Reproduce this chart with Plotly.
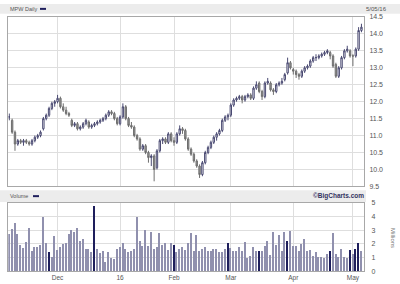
import pandas as pd
import plotly.graph_objects as go

# ---------------- data ----------------
holidays = ["2015-11-26", "2015-12-25", "2016-01-01", "2016-01-18", "2016-02-15", "2016-03-25"]
dates = [d.strftime("%Y-%m-%d") for d in pd.bdate_range("2015-11-05", "2016-05-05")
         if d.strftime("%Y-%m-%d") not in holidays]

opens = [11.55, 11.45, 11.10, 10.75, 10.85, 10.80, 10.85, 10.80, 10.75, 10.85,
         10.95, 11.00, 11.20, 11.50, 11.60, 11.80, 11.95, 12.00, 12.10, 11.85,
         11.75, 11.65, 11.45, 11.30, 11.35, 11.20, 11.25, 11.35, 11.40, 11.25,
         11.30, 11.35, 11.40, 11.45, 11.50, 11.60, 11.70, 11.65, 11.50, 11.35,
         11.55, 11.85, 11.50, 11.30, 11.25, 11.00, 10.90, 10.60, 10.70, 10.50,
         10.35, 10.40, 10.05, 10.55, 10.85, 10.90, 10.80, 11.05, 10.85, 10.80,
         11.05, 11.20, 11.15, 10.90, 10.60, 10.45, 10.25, 10.10, 9.85, 10.20,
         10.50, 10.65, 10.80, 10.95, 11.05, 11.15, 11.45, 11.55, 11.60, 11.90,
         12.05, 12.10, 12.15, 12.05, 12.15, 12.20, 12.10, 12.40, 12.55, 12.30,
         12.15, 12.55, 12.55, 12.35, 12.30, 12.50, 12.55, 12.65, 12.85, 13.15,
         12.95, 12.90, 12.80, 12.75, 12.90, 13.00, 13.05, 13.20, 13.30, 13.30,
         13.35, 13.40, 13.45, 13.45, 13.35, 13.10, 12.75, 13.00, 13.30, 13.50,
         13.50, 13.35, 13.35, 13.55, 14.10]
highs = [11.65, 11.50, 11.15, 10.90, 10.90, 10.90, 10.90, 10.85, 10.90, 11.00,
         11.05, 11.15, 11.55, 11.65, 11.85, 12.00, 12.05, 12.20, 12.15, 11.95,
         11.85, 11.70, 11.50, 11.40, 11.40, 11.30, 11.40, 11.50, 11.45, 11.35,
         11.40, 11.45, 11.50, 11.55, 11.65, 11.75, 11.75, 11.70, 11.55, 11.60,
         11.95, 11.90, 11.55, 11.40, 11.30, 11.05, 10.95, 10.75, 10.75, 10.55,
         10.45, 10.45, 10.60, 10.90, 10.95, 10.95, 11.10, 11.10, 10.95, 11.10,
         11.30, 11.25, 11.20, 10.95, 10.65, 10.50, 10.30, 10.15, 10.25, 10.55,
         10.70, 10.85, 11.00, 11.10, 11.20, 11.50, 11.60, 11.65, 11.95, 12.10,
         12.15, 12.20, 12.20, 12.20, 12.25, 12.25, 12.45, 12.60, 12.60, 12.35,
         12.60, 12.70, 12.60, 12.40, 12.55, 12.60, 12.70, 12.85, 13.30, 13.20,
         13.00, 12.95, 12.85, 12.95, 13.05, 13.10, 13.25, 13.35, 13.40, 13.40,
         13.45, 13.50, 13.55, 13.50, 13.40, 13.15, 13.05, 13.35, 13.55, 13.65,
         13.55, 13.40, 13.60, 14.20, 14.30]
lows = [11.45, 11.05, 10.55, 10.70, 10.75, 10.70, 10.75, 10.70, 10.70, 10.80,
        10.90, 10.95, 11.15, 11.45, 11.55, 11.75, 11.85, 11.95, 11.80, 11.70,
        11.60, 11.55, 11.25, 11.25, 11.15, 11.15, 11.20, 11.30, 11.20, 11.20,
        11.25, 11.30, 11.35, 11.40, 11.45, 11.55, 11.60, 11.45, 11.30, 11.30,
        11.50, 11.45, 11.25, 11.20, 10.95, 10.85, 10.55, 10.55, 10.45, 10.20,
        10.10, 9.65, 10.00, 10.50, 10.75, 10.75, 10.75, 10.80, 10.70, 10.75,
        11.00, 11.05, 10.85, 10.55, 10.40, 10.20, 10.05, 9.75, 9.80, 10.15,
        10.45, 10.60, 10.75, 10.85, 11.00, 11.10, 11.40, 11.45, 11.55, 11.85,
        12.00, 12.05, 11.95, 12.00, 12.10, 12.05, 12.05, 12.35, 12.25, 12.05,
        12.10, 12.50, 12.30, 12.20, 12.25, 12.45, 12.50, 12.60, 12.80, 12.95,
        12.80, 12.70, 12.65, 12.70, 12.85, 12.95, 13.00, 13.15, 13.20, 13.25,
        13.30, 13.35, 13.40, 13.25, 13.00, 12.70, 12.70, 12.95, 13.25, 13.45,
        13.30, 13.05, 13.30, 13.50, 14.05]
closes = [11.55, 11.10, 10.75, 10.85, 10.80, 10.85, 10.80, 10.75, 10.85, 10.95,
          11.00, 11.10, 11.50, 11.60, 11.80, 11.95, 12.00, 12.10, 11.85, 11.75,
          11.65, 11.60, 11.30, 11.35, 11.20, 11.25, 11.35, 11.45, 11.25, 11.30,
          11.35, 11.40, 11.45, 11.50, 11.60, 11.70, 11.65, 11.50, 11.35, 11.55,
          11.85, 11.50, 11.30, 11.25, 11.00, 10.90, 10.60, 10.70, 10.50, 10.35,
          10.40, 10.00, 10.55, 10.85, 10.90, 10.80, 11.05, 10.85, 10.80, 11.05,
          11.20, 11.15, 10.90, 10.60, 10.45, 10.25, 10.10, 9.85, 10.20, 10.50,
          10.65, 10.80, 10.95, 11.05, 11.15, 11.45, 11.55, 11.60, 11.90, 12.05,
          12.10, 12.15, 12.05, 12.15, 12.20, 12.10, 12.40, 12.50, 12.30, 12.15,
          12.55, 12.60, 12.35, 12.30, 12.50, 12.55, 12.60, 12.80, 13.15, 13.00,
          12.90, 12.80, 12.75, 12.90, 13.00, 13.05, 13.20, 13.30, 13.30, 13.35,
          13.40, 13.45, 13.50, 13.35, 13.05, 12.75, 13.00, 13.30, 13.50, 13.55,
          13.35, 13.35, 13.55, 14.10, 14.20]
volume_millions = [2.7, 3.1, 3.5, 2.7, 1.95, 1.7, 2.15, 3.2, 1.5, 1.8,
                   1.75, 1.9, 4.0, 2.1, 1.4, 1.05, 2.6, 1.55, 1.8, 2.0,
                   2.05, 2.7, 3.0, 2.85, 3.2, 2.25, 2.4, 1.65, 1.65, 1.4,
                   4.75, 1.65, 1.35, 1.5, 0.7, 1.4, 1.0, 0.9, 1.65, 1.75,
                   2.05, 1.6, 1.4, 1.5, 1.65, 4.0, 2.25, 1.85, 3.0, 1.85,
                   2.9, 1.6, 1.8, 2.8, 1.9, 2.05, 1.55, 2.1, 1.9, 1.4,
                   1.6, 1.8, 1.55, 2.05, 2.8, 1.5, 2.65, 1.5, 1.6, 1.75,
                   1.5, 1.5, 1.65, 1.65, 1.4, 1.4, 1.65, 2.1, 1.7, 1.5,
                   1.5, 1.75, 1.5, 2.15, 0.95, 1.15, 1.75, 1.5, 1.5, 1.5,
                   1.85, 2.25, 1.2, 2.85, 1.9, 2.65, 1.5, 2.85, 2.25, 2.95,
                   1.85, 1.85, 1.5, 2.0, 2.4, 1.5, 1.55, 1.1, 1.4, 1.05,
                   1.05, 0.95, 1.25, 1.5, 2.8, 1.3, 1.05, 1.65, 1.05, 1.0,
                   1.55, 1.3, 1.65, 2.1, 1.45]
dark_volume_days = ["2015-11-25", "2015-12-18", "2016-02-01", "2016-02-29", "2016-03-15",
                    "2016-03-30", "2016-04-20", "2016-04-29", "2016-05-03", "2016-05-04"]

month_ticks = ["2015-12-01", "2016-01-04", "2016-02-01", "2016-03-01", "2016-04-01", "2016-05-02"]
month_labels = ["Dec", "16", "Feb", "Mar", "Apr", "May"]
price_ticks = [9.5, 10.0, 10.5, 11.0, 11.5, 12.0, 12.5, 13.0, 13.5, 14.0, 14.5]
volume_ticks = [0, 1, 2, 3, 4, 5]

# ---------------- figure ----------------
W, H = 400, 284
GRID = "#dedede"
FRAME = "#a8a8a8"
TXT = "#555555"
FONT = "Liberation Sans"

bar_colors = ["#1e1e5c" if d in dark_volume_days else "#9090ae" for d in dates]

fig = go.Figure()
fig.add_trace(go.Candlestick(
    x=dates, open=opens, high=highs, low=lows, close=closes,
    increasing=dict(line=dict(color="#4a4a72", width=1), fillcolor="#ffffff"),
    decreasing=dict(line=dict(color="#6e6e6e", width=1), fillcolor="#9a9a9a"),
    whiskerwidth=0, showlegend=False, hoverinfo="skip",
    xaxis="x", yaxis="y",
))
fig.add_trace(go.Bar(
    x=dates, y=volume_millions, marker=dict(color=bar_colors, line=dict(width=0)),
    width=0.4, showlegend=False, hoverinfo="skip", xaxis="x2", yaxis="y2",
))

xdom = [8.3 / W, 364 / W]
common_x = dict(
    type="category", domain=xdom, range=[-0.35, len(dates) - 0.1],
    tickmode="array", tickvals=month_ticks, ticktext=month_labels,
    showgrid=True, gridcolor=GRID, gridwidth=1,
    showline=True, linecolor=FRAME, linewidth=1, mirror=True,
    ticks="", zeroline=False, fixedrange=True,
)
fig.update_layout(
    width=W, height=H,
    margin=dict(l=0, r=0, t=0, b=0),
    paper_bgcolor="white", plot_bgcolor="white",
    font=dict(family=FONT, size=7, color=TXT),
    bargap=0,
    xaxis=dict(**common_x, anchor="y", showticklabels=False,
               rangeslider=dict(visible=False)),
    xaxis2=dict(**common_x, anchor="y2", matches="x", showticklabels=True,
                tickfont=dict(size=6.5, color=TXT, family=FONT)),
    yaxis=dict(domain=[1 - 187 / H, 1 - 13.3 / H], range=[9.5, 14.5],
               tickmode="array", tickvals=price_ticks, tickformat=".1f",
               side="right", showgrid=True, gridcolor=GRID,
               showline=True, linecolor=FRAME, mirror=True, ticks="",
               zeroline=False, tickfont=dict(size=7, color=TXT, family=FONT),
               ticklabelstandoff=3, anchor="x"),
    yaxis2=dict(domain=[1 - 274 / H, 1 - 204 / H], range=[0, 5],
                tickmode="array", tickvals=volume_ticks,
                side="right", showgrid=True, gridcolor=GRID,
                showline=True, linecolor=FRAME, mirror=True, ticks="",
                zeroline=False, tickfont=dict(size=7, color=TXT, family=FONT),
                ticklabelstandoff=5, anchor="x2"),
)

# header bands
fig.add_shape(type="rect", xref="paper", yref="paper", x0=0, x1=1,
              y0=1 - 10 / H, y1=1, fillcolor="#ececec", line=dict(width=0), layer="below")
fig.add_shape(type="rect", xref="paper", yref="paper", x0=0, x1=366 / W,
              y0=1 - 203 / H, y1=1 - 191 / H, fillcolor="#ececec", line=dict(width=0), layer="below")
# legend dashes
fig.add_shape(type="line", xref="paper", yref="paper", x0=40 / W, x1=46 / W,
              y0=1 - 5 / H, y1=1 - 5 / H, line=dict(color="#1e1e5c", width=2))
fig.add_shape(type="line", xref="paper", yref="paper", x0=33 / W, x1=39 / W,
              y0=1 - 197 / H, y1=1 - 197 / H, line=dict(color="#1e1e5c", width=2))

ann = [
    dict(text="MPW Daily", x=9 / W, y=1 - 5 / H, xanchor="left", font=dict(size=5.5, color=TXT)),
    dict(text="5/05/16", x=388 / W, y=1 - 5 / H, xanchor="right", font=dict(size=6, color=TXT)),
    dict(text="Volume", x=9 / W, y=1 - 197 / H, xanchor="left", font=dict(size=5.5, color=TXT)),
    dict(text="<b>©BigCharts.com</b>", x=365 / W, y=1 - 197 / H, xanchor="right",
         font=dict(size=6.5, color="#33335f")),
    dict(text="Millions", x=393 / W, y=1 - 240 / H, xanchor="center", textangle=90,
         font=dict(size=6, color="#777777")),
]
for a in ann:
    fig.add_annotation(xref="paper", yref="paper", yanchor="middle", showarrow=False,
                       borderpad=0, **a)

fig.write_html("out.html")
